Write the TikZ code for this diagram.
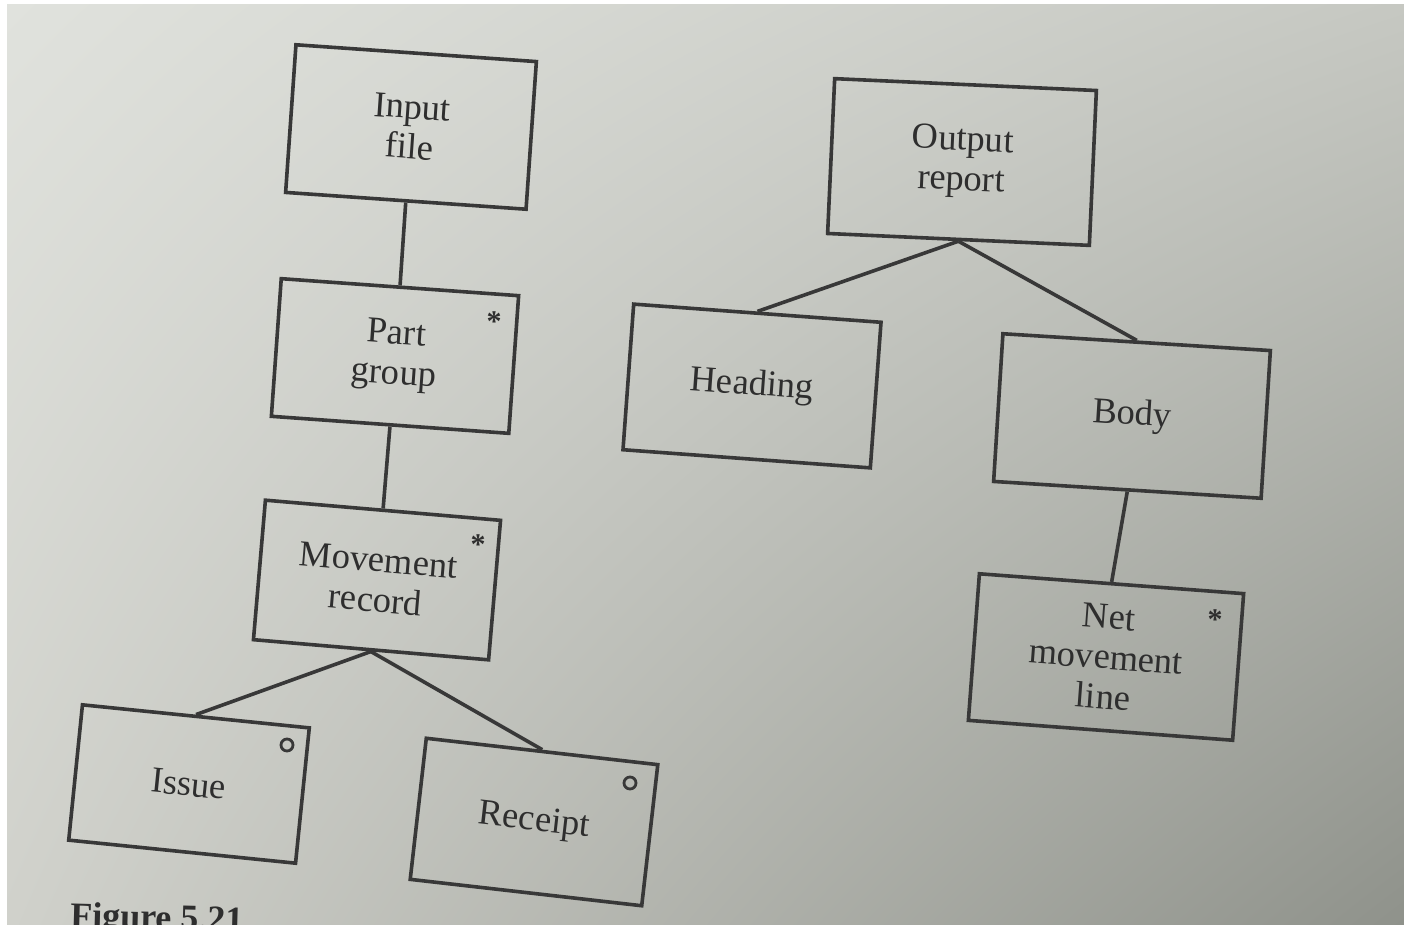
\documentclass[tikz,border=0pt]{standalone}
\usepackage{fontspec}
\setmainfont{Liberation Serif}
\usetikzlibrary{shadings}
\definecolor{paperUL}{HTML}{E0E2DD}
\definecolor{paperUR}{HTML}{C6C8C2}
\definecolor{paperLL}{HTML}{D0D1CB}
\definecolor{paperLR}{HTML}{8F928B}
\definecolor{inkc}{HTML}{383838}
\definecolor{textc}{HTML}{2E2E2E}
\begin{document}
\begin{tikzpicture}[x=1pt,y=-1pt,
  box/.style={draw=inkc, line width=3.6pt, rectangle, align=center,
    text=textc, inner sep=0pt, font=\fontsize{36.5}{40}\selectfont},
  link/.style={draw=inkc, line width=3.6pt},
  % the asterisk glyph sits high in its box, so the node is set a little lower
  itermark/.style={text=textc, inner sep=0pt, yshift=-6pt,
    font=\fontsize{30}{30}\selectfont\bfseries},
  selmark/.style={draw=inkc, circle, line width=2.8pt, minimum size=12pt, inner sep=0pt},
  caption/.style={text=textc, inner sep=0pt, anchor=base west,
    font=\fontsize{36}{40}\selectfont\bfseries}
]
% page and paper
\fill[white] (0,0) rectangle (1404,925);
\useasboundingbox (0,0) rectangle (1404,925);
\clip (0,0) rectangle (1404,925);
\shade[upper left=paperUL, upper right=paperUR, lower left=paperLL, lower right=paperLR]
  (7,5) rectangle (1404,925);

% input structure
\node[box, minimum width=241pt, minimum height=148pt, rotate=-4.0] (inp) at (411,127) {Input\\file};
\node[box, minimum width=238pt, minimum height=138pt, rotate=-4.1] (part) at (395,356) {Part\\group};
\node[box, minimum width=236pt, minimum height=140pt, rotate=-4.9] (move) at (377,580) {Movement\\record};
\node[box, minimum width=228pt, minimum height=136pt, rotate=-5.8] (issue) at (189,784) {Issue};
\node[box, minimum width=233pt, minimum height=142pt, rotate=-6.5] (rec) at (534,822) {Receipt};

% output structure
\node[box, minimum width=262pt, minimum height=155pt, rotate=-2.6] (out) at (962,162) {Output\\report};
\node[box, minimum width=248pt, minimum height=146pt, rotate=-4.2] (head) at (752,386) {Heading};
\node[box, minimum width=268pt, minimum height=148pt, rotate=-3.6] (body) at (1132,416) {Body};
\node[box, minimum width=265pt, minimum height=147pt, rotate=-4.3] (net) at (1106,657) {Net\\movement\\line};

% iteration and selection marks
\node[itermark] (partit) at (494,316) {*};
\node[itermark] (moveit) at (478,539) {*};
\node[itermark] (netit) at (1215,614) {*};
\node[selmark] (issuesel) at (287,745) {};
\node[selmark] (recsel) at (630,783) {};

% tree links
\draw[link] (inp.south) -- (part.north);
\draw[link] (part.south) -- (move.north);
\draw[link] (move.south) -- (issue.north);
\draw[link] (move.south) -- (rec.north);
\draw[link] (out.south) -- (head.north);
\draw[link] (out.south) -- (body.north);
\draw[link] (body.south) -- (net.north);

% caption line at the foot of the page
\node[caption, rotate=-1.5] (cap) at (70,927) {Figure 5.21};
\end{tikzpicture}
\end{document}
